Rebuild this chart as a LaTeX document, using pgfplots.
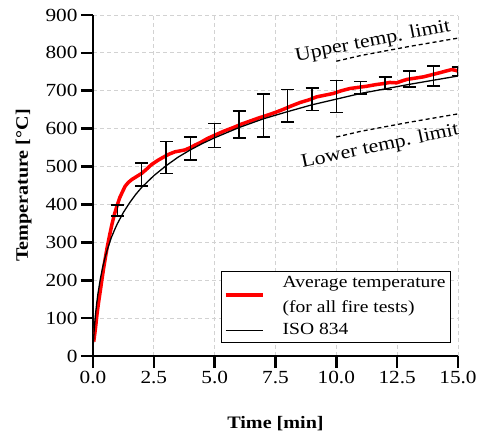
\documentclass[border=0pt]{standalone}
\usepackage{fontspec}
\setmainfont{Liberation Serif}[FakeStretch=1.15]
\usepackage{pgfplots}
\pgfplotsset{compat=1.18}
\usepackage{pgfplotstable}

\pgfplotsset{
  plainline/.style={legend image code/.code={\draw[##1] (0pt,0pt) -- (37pt,0pt); \path[draw=none,fill=none] (0pt,0pt) -- (55pt,0pt);}},
  shiftedline/.style={legend image code/.code={\draw[##1] (0pt,-11pt) -- (37pt,-11pt); \path[draw=none,fill=none] (0pt,0pt) -- (55pt,0pt);}},
}

\pgfplotstableread{
t T
0.03 38
0.10 72
0.16 108
0.23 142
0.30 172
0.37 203
0.44 233
0.51 260
0.58 286
0.68 318
0.78 348
0.88 374
0.99 397
1.10 418
1.20 432
1.32 448
1.45 458
1.60 466
1.80 474
2.00 482
2.20 493
2.40 505
2.68 517
2.90 525
3.10 532
3.37 539
3.55 541
3.78 544
4.00 550
4.20 557
4.40 563
4.70 574
5.08 585
5.40 594
5.77 603
6.10 612
6.45 620
6.80 628
7.14 635
7.50 643
7.82 651
8.15 660
8.51 669
8.92 677
9.19 684
9.50 688
9.88 693
10.20 700
10.56 706
10.90 709
11.25 712
11.60 716
11.93 719
12.20 722
12.48 721
12.70 726
12.90 730
13.20 733
13.60 737
13.90 742
14.27 748
14.50 752
14.74 756
14.90 754
15.00 752
}\avgdata

\pgfplotstableread{
t T
0 20
0.05 70
0.10 108
0.15 138
0.20 163
0.30 203
0.40 235
0.50 261
0.60 283
0.75 312
0.90 335
1.00 349
1.25 379
1.50 404
1.75 426
2.00 445
2.50 476
3.00 502
3.50 525
4.00 544
4.50 561
5.00 576
6.00 603
7.00 626
8.00 645
9.00 663
10.00 678
11.00 693
12.00 705
13.00 717
14.00 728
15.00 739
}\isodata

\pgfplotstableread{
t T e
1 384 15
2 479 31
3 524 42
4 548 30
5 582 32
6 611 35
7 635 57
8 660 43
9 678 30
10 685 42
11 708 16
12 720 17
13 731 21
14 739 26
15 751 11
}\bardata

\pgfplotstableread{
t T
10 778
11 793
12 805
13 817
14 828
15 839
}\upperdata

\pgfplotstableread{
t T
10 578
11 593
12 605
13 617
14 628
15 639
}\lowerdata

\begin{document}
\begin{tikzpicture}
\begin{axis}[
  scale only axis, width=365pt, height=341pt,
  xmin=0, xmax=15, ymin=0, ymax=900,
  axis x line=bottom, axis y line=left,
  axis line style={-, line width=2.6pt},
  xtick={0,2.5,...,15}, ytick={0,100,...,900},
  tick align=outside, major tick length=12pt,
  major tick style={black, line width=2.6pt},
  grid=major,
  grid style={gray!35, line width=0.9pt, dash pattern=on 4pt off 3pt},
  xticklabel style={/pgf/number format/fixed, /pgf/number format/fixed zerofill, /pgf/number format/precision=1},
  /pgf/number format/assume math mode=true,
  tick label style={font=\fontsize{18.5}{20}\selectfont},
  xlabel={\textbf{Time [min]}},
  ylabel={\textbf{Temperature [°C]}},
  label style={font=\fontsize{17.5}{20}\selectfont},
  xlabel style={at={(axis description cs:0.5,-0.214)}, anchor=base},
  ylabel style={at={(axis description cs:-0.19,0.5)}, anchor=center},
  legend style={at={(0.981,0.038)}, anchor=south east, draw=black, line width=0.8pt,
    font=\fontsize{17}{20}\selectfont, cells={anchor=west}, row sep=2pt,
    nodes={inner ysep=2pt, text height=12pt, text depth=4pt}},
  plainline,
]
\addplot[red, line width=3.5pt, shiftedline] table[x=t, y=T] {\avgdata};
\addlegendentry{Average temperature}
\addlegendimage{empty legend}
\addlegendentry{(for all fire tests)}
\addplot[black, line width=1.3pt] table[x=t, y=T] {\isodata};
\addlegendentry{ISO 834}
\addplot[forget plot, draw=none, mark=none,
  error bars/.cd, y dir=both, y explicit,
  error bar style={draw=black, solid, line width=1.6pt},
  error mark options={draw=black, rotate=90, mark size=6.5pt, line width=1.6pt}]
  table[x=t, y=T, y error=e] {\bardata};
\addplot[forget plot, black, line width=1.3pt, dash pattern=on 4pt off 3pt] table[x=t, y=T] {\upperdata};
\addplot[forget plot, black, line width=1.3pt, dash pattern=on 4pt off 3pt] table[x=t, y=T] {\lowerdata};
\node[rotate=11, font=\fontsize{19}{20}\selectfont] at (axis cs:11.5,830) {Upper temp. limit};
\node[rotate=12, font=\fontsize{19}{20}\selectfont] at (axis cs:11.8,552) {Lower temp. limit};
\coordinate (O) at (rel axis cs:0,0);
\end{axis}
\pgfresetboundingbox
\path[use as bounding box] (O) ++(-93pt,-80pt) rectangle ++(478pt,436pt);
\end{tikzpicture}
\end{document}
